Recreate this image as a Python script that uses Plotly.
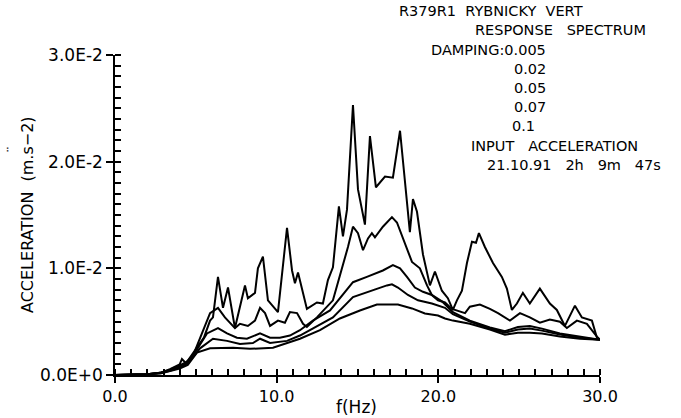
import plotly.graph_objects as go

# ---------------- data (frequency in Hz, acceleration in 1e-3 m.s-2) ----------------
f_d005 = [0, 1, 2, 2.8, 3.4, 4.0, 4.14, 4.39, 4.82, 5.07, 5.5, 5.88, 6.06, 6.37, 6.68, 6.99, 7.42,
          8.04, 8.22, 8.66, 8.84, 9.15, 9.46, 10.08, 10.64, 10.95, 11.13, 11.32, 11.87, 12.49, 12.86,
          13.17, 13.48, 13.85, 14.10, 14.35, 14.72, 15.03, 15.46, 15.77, 16.14, 16.70, 17.19, 17.63,
          17.93, 18.24, 18.43, 18.68, 19.05, 19.48, 19.79, 20.22, 20.59, 20.90, 21.15, 21.46, 21.77,
          22.08, 22.33, 22.51, 22.88, 23.38, 23.93, 24.24, 24.55, 24.86, 25.23, 25.66, 26.28, 26.90,
          27.33, 27.83, 28.45, 28.88, 29.50, 29.81, 30.0]
a_d005 = [0, 0.02, 0.08, 0.2, 0.55, 1.0, 1.5, 1.1, 2.0, 2.5, 3.5, 5.1, 5.4, 9.2, 6.3, 8.2, 4.4,
          8.4, 7.2, 7.7, 10.0, 11.1, 7.0, 5.9, 13.8, 9.8, 8.6, 9.6, 6.2, 6.8, 6.7,
          8.9, 10.1, 15.8, 13.0, 15.5, 25.3, 17.4, 14.1, 22.4, 17.6, 18.6, 18.5, 22.9,
          18.5, 13.4, 16.5, 15.3, 11.3, 8.4, 9.7, 7.9, 7.2, 6.1, 7.0, 7.9, 10.5,
          12.5, 12.4, 13.3, 12.0, 10.5, 9.2, 8.1, 6.1, 6.7, 7.7, 6.7, 8.1, 6.7,
          6.1, 4.6, 6.5, 5.4, 5.1, 3.5, 3.3]

f_d02 = [0, 1, 2, 2.8, 3.4, 4.0, 4.4, 4.82, 5.26, 5.88, 6.37, 6.80, 7.42, 7.73, 8.22, 8.66, 8.97,
         9.28, 9.59, 10.08, 10.51, 10.82, 11.26, 11.63, 11.87, 12.49, 13.48, 13.91, 14.41, 14.72,
         15.03, 15.34, 15.65, 15.89, 16.08, 16.57, 17.13, 17.44, 17.81, 18.37, 18.86, 19.30, 19.60,
         19.98, 20.41, 20.84, 21.65, 21.95, 22.57, 23.19, 23.69, 24.43, 25.05, 25.66, 26.28, 26.90,
         27.52, 27.95, 28.57, 29.19, 29.81, 30.0]
a_d02 = [0, 0.02, 0.08, 0.2, 0.5, 0.9, 1.2, 1.8, 3.5, 5.8, 6.3, 5.4, 4.4, 4.8, 4.6, 5.1, 6.3,
         5.8, 4.6, 5.1, 4.9, 5.9, 5.8, 4.8, 4.5, 5.4, 7.0, 9.2, 12.0, 13.9,
         13.3, 11.7, 12.8, 13.3, 12.9, 13.9, 14.8, 14.3, 12.9, 10.6, 10.0, 8.4, 7.5,
         7.0, 6.8, 6.2, 5.8, 6.4, 6.6, 6.2, 5.8, 5.1, 5.8, 5.4, 4.9, 5.2,
         5.0, 4.4, 5.1, 4.8, 3.6, 3.3]

f_d05 = [0, 1, 2, 2.8, 3.4, 4.0, 4.5, 5.07, 5.69, 6.37, 6.93, 7.54, 8.16, 8.97, 9.59, 10.20, 10.82,
         11.44, 12.24, 13.30, 14.10, 14.72, 15.58, 16.57, 17.19, 17.63, 18.06, 18.55, 19.05, 19.60,
         20.22, 20.90, 21.95, 23.19, 24.12, 24.92, 25.66, 26.41, 27.52, 28.76, 30.0]
a_d05 = [0, 0.02, 0.08, 0.2, 0.45, 0.8, 1.2, 2.4, 3.9, 4.4, 3.9, 3.5, 3.4, 3.9, 3.5, 3.5, 3.7,
         4.2, 5.1, 6.05, 7.6, 8.7, 9.2, 9.8, 10.3, 10.0, 9.2, 8.2, 7.8, 7.5,
         6.9, 5.9, 5.1, 4.45, 4.1, 4.5, 4.6, 4.35, 3.9, 3.6, 3.3]

f_d07 = [0, 1, 2, 2.8, 3.4, 4.0, 4.5, 5.26, 6.06, 6.93, 7.73, 8.53, 8.97, 9.59, 10.64, 11.44, 12.49,
         13.48, 14.72, 15.89, 16.82, 17.13, 17.50, 18.12, 18.74, 19.60, 20.41, 20.90, 21.95, 23.19,
         24.12, 24.92, 25.66, 26.41, 27.52, 28.76, 30.0]
a_d07 = [0, 0.02, 0.08, 0.18, 0.4, 0.7, 1.1, 2.5, 3.4, 3.2, 2.9, 3.0, 3.4, 3.0, 3.2, 3.7, 4.6,
         5.4, 7.3, 7.95, 8.4, 8.5, 8.2, 7.5, 7.0, 6.7, 6.3, 5.7, 5.0, 4.35,
         3.97, 4.26, 4.35, 4.16, 3.8, 3.5, 3.3]

f_d10 = [0, 1, 2, 2.8, 3.4, 4.0, 4.5, 5.07, 5.88, 7.30, 8.35, 9.77, 11.44, 12.68, 13.91, 15.15, 16.20,
         17.19, 17.50, 18.37, 19.17, 19.98, 20.41, 20.90, 21.95, 23.19, 24.12, 24.92, 25.66, 26.41,
         27.52, 28.76, 30.0]
a_d10 = [0, 0.02, 0.07, 0.15, 0.35, 0.6, 0.95, 2.1, 2.5, 2.55, 2.45, 2.55, 3.4, 4.2, 5.3, 6.05, 6.6,
         6.6, 6.6, 6.24, 5.77, 5.58, 5.3, 5.1, 4.8, 4.26, 3.78, 3.97, 3.97, 3.88,
         3.6, 3.4, 3.3]

series = [(f_d005, a_d005), (f_d02, a_d02), (f_d05, a_d05), (f_d07, a_d07), (f_d10, a_d10)]

y_tick_vals = [0, 0.01, 0.02, 0.03]
y_tick_text = ["0.0E+0", "1.0E-2", "2.0E-2", "3.0E-2"]
x_tick_vals = [0, 10, 20, 30]
x_tick_text = ["0.0", "10.0", "20.0", "30.0"]

title_lines = ["R379R1  RYBNICKY  VERT", "RESPONSE   SPECTRUM", "DAMPING:0.005",
               "0.02", "0.05", "0.07", "0.1", "INPUT   ACCELERATION", "21.10.91   2h   9m   47s"]

# ---------------- figure ----------------
W, H = 681, 418
ML, MR, MT, MB = 115, 81, 55, 43
FONT = "DejaVu Sans"

fig = go.Figure()
for fx, ay in series:
    fig.add_trace(go.Scatter(x=fx, y=[v * 1e-3 for v in ay], mode="lines",
                             line=dict(color="black", width=2), showlegend=False,
                             hoverinfo="skip"))

def px(xp):
    return (xp - ML) / (W - ML - MR)

def py(yp):
    return (H - MB - yp) / (H - MT - MB)

# title block: (x pixel, anchor), lines evenly spaced vertically
title_x = [(585, "right"), (648, "right"), (548, "right"), (548, "right"), (548, "right"),
           (548, "right"), (510, "left"), (640, "right"), (663, "right")]
TOP_Y, STEP_Y = 11, 19.25
anns = []
for i, (txt, (xp, anc)) in enumerate(zip(title_lines, title_x)):
    anns.append(dict(text=txt, x=px(xp), y=py(TOP_Y + i * STEP_Y), xref="paper", yref="paper",
                     xanchor=anc, yanchor="middle", showarrow=False,
                     font=dict(family=FONT, size=14.5, color="black")))

anns.append(dict(text="ACCELERATION  (m.s\u22122)", x=px(27), y=py(215), xref="paper", yref="paper",
                 textangle=-90, showarrow=False, xanchor="center", yanchor="middle",
                 font=dict(family=FONT, size=16, color="black")))
anns.append(dict(text="\u00a8", x=px(13), y=py(150), xref="paper", yref="paper",
                 textangle=-90, showarrow=False, xanchor="center", yanchor="middle",
                 font=dict(family=FONT, size=14, color="black")))
anns.append(dict(text="f(Hz)", x=px(356), y=py(407), xref="paper", yref="paper",
                 showarrow=False, xanchor="center", yanchor="middle",
                 font=dict(family=FONT, size=17, color="black")))
fig.update_layout(annotations=anns)

fig.update_layout(
    width=W, height=H, margin=dict(l=ML, r=MR, t=MT, b=MB, pad=0),
    paper_bgcolor="white", plot_bgcolor="white",
    font=dict(family=FONT, size=15, color="black"),
    xaxis=dict(range=[0, 30], tickmode="array", tickvals=x_tick_vals, ticktext=x_tick_text,
               ticks="outside", ticklen=6, tickwidth=1.5, tickcolor="black",
               showline=True, linecolor="black", linewidth=1.5, showgrid=False, zeroline=False,
               tickfont=dict(family=FONT, size=16, color="black"),
               minor=dict(tickmode="array", tickvals=list(range(0, 31)), ticks="inside",
                          ticklen=6, tickwidth=1.5, tickcolor="black", showgrid=False)),
    yaxis=dict(range=[0, 0.03], tickmode="array", tickvals=y_tick_vals, ticktext=y_tick_text,
               ticks="outside", ticklen=7, tickwidth=1.5, tickcolor="black",
               showline=True, linecolor="black", linewidth=1.5, showgrid=False, zeroline=False,
               tickfont=dict(family=FONT, size=17, color="black"),
               minor=dict(tickmode="array", tickvals=[i * 0.001 for i in range(31)], ticks="inside",
                          ticklen=6, tickwidth=1.5, tickcolor="black", showgrid=False)),
)

fig.write_html("out.html")
